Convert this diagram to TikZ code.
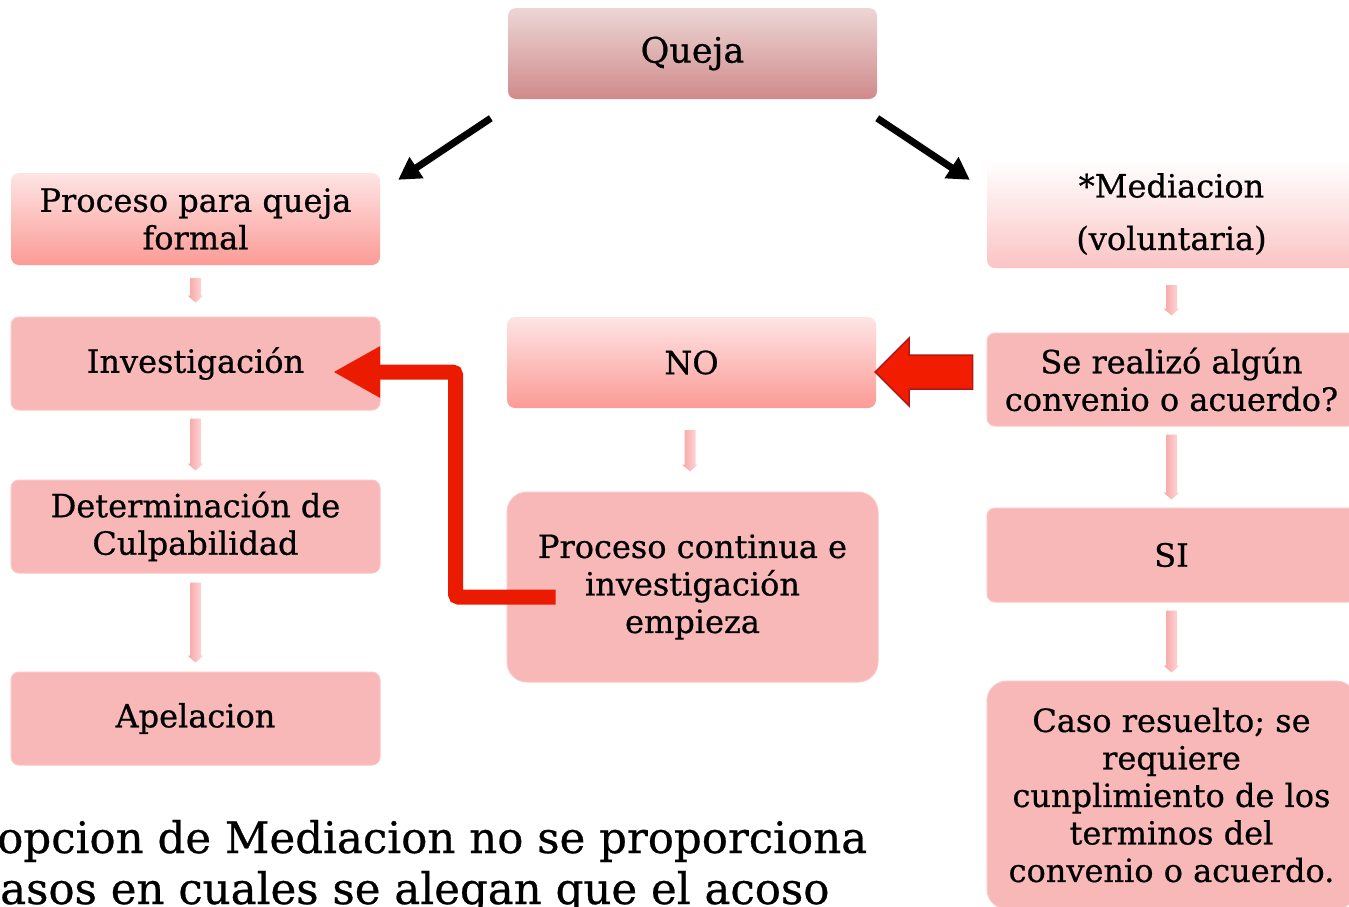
\documentclass[tikz,border=0pt]{standalone}
\usepackage{fontspec}
\setmainfont[FakeBold=0.6]{DejaVu Serif}
\usetikzlibrary{calc,arrows.meta}
\definecolor{boxpink}{HTML}{F8B8B8}
\definecolor{boxedge}{HTML}{FAC6C6}
\definecolor{qtop}{HTML}{EDD6D6}
\definecolor{qbot}{HTML}{D08A8A}
\definecolor{gtop}{HTML}{FDE4E4}
\definecolor{gbot}{HTML}{FC9B96}
\definecolor{mbot}{HTML}{FBC4C4}
\definecolor{linered}{HTML}{EA1B00}
\definecolor{arrred}{HTML}{F21C00}
\definecolor{arrdark}{HTML}{B01818}
\definecolor{parrL}{HTML}{F9A3A3}
\definecolor{parrR}{HTML}{FDDCDC}
\newcommand\pinkarr[2]{\path[left color=parrL, right color=parrR] let \p1=(#1), \p2=(#2) in
  ({\x1-5.5pt},{\y1}) -- ({\x1+5.5pt},{\y1}) -- ({\x1+5.5pt},{\y2+7pt}) -- ({\x1+8pt},{\y2+7pt}) --
  ({\x1},{\y2}) -- ({\x1-8pt},{\y2+7pt}) -- ({\x1-5.5pt},{\y2+7pt}) -- cycle;}
\tikzset{
  box/.style={rounded corners=8pt, minimum width=369pt, minimum height=92pt, inner sep=0pt,
    align=center, font=\fontsize{32}{37.5}\selectfont},
  flat/.style={box, fill=boxpink, draw=boxedge, line width=1pt},
  blk/.style={line width=7pt, -{Triangle[length=22pt,width=24pt]}},
  redline/.style={draw=linered, line width=15pt, rounded corners=3pt, -{Triangle[length=47pt,width=48pt]}},
  bottomtext/.style={anchor=base west, inner sep=0pt, font=\fontsize{43.5}{50}\selectfont},
}
\begin{document}
\begin{tikzpicture}[x=1pt,y=-1pt]
\useasboundingbox (0,0) rectangle (1349,906);
\clip (0,0) rectangle (1349,906);

\node[box, top color=qtop, bottom color=qbot, minimum height=91pt, font=\fontsize{35}{40}\selectfont] (queja) at (692.5,53.5) {Queja};
\node[box, top color=gtop, bottom color=gbot] (formal) at (195.5,219) {Proceso para queja\\formal};
\node[flat, minimum height=93pt] (inv) at (195.5,363.5) {Investigación};
\node[flat, minimum height=93pt] (det) at (195.5,526.5) {Determinación de\\Culpabilidad};
\node[flat, minimum height=93pt] (ape) at (195.5,718.5) {Apelacion};
\node[box, top color=gtop, bottom color=gbot, minimum height=91pt] (no) at (691.5,362.5) {NO};
\node[flat, minimum width=371pt, minimum height=190pt, rounded corners=20pt] (cont) at (692.5,587) {Proceso continua e\\investigación\\empieza};
\node[box, top color=white, bottom color=mbot, minimum height=108pt] (med) at (1171.5,214) {*Mediacion\\[15pt](voluntaria)};
\node[flat, minimum height=93pt] (se) at (1171.5,379.5) {Se realizó algún\\convenio o acuerdo?};
\node[flat, minimum height=94pt] (si) at (1171.5,555) {SI};
\node[flat, minimum height=228pt, rounded corners=20pt] (caso) at (1171.5,795) {Caso resuelto; se\\requiere\\cunplimiento de los\\terminos del\\convenio o acuerdo.};

% black arrows
\draw[blk] ($(queja.south west)+(-17,19)$) -- ($(formal.north east)+(18,7)$);
\draw[blk] ($(queja.south east)+(0,19)$) -- ($(med.north west)+(-17,20)$);

% pink arrows
\pinkarr{$(formal.south)+(0,13)$}{$(inv.north)+(0,-14)$}
\pinkarr{$(inv.south)+(0,8)$}{$(det.north)+(0,-9)$}
\pinkarr{$(det.south)+(0,9)$}{$(ape.north)+(0,-9)$}
\pinkarr{$(no.south)+(-1.5,22)$}{$(cont.north)+(-2.5,-20)$}
\pinkarr{$(med.south)+(0,17)$}{$(se.north)+(0,-17)$}
\pinkarr{$(se.south)+(0,8)$}{$(si.north)+(0,-8)$}
\pinkarr{$(si.south)+(0,8)$}{$(caso.north)+(0,-8)$}

% red elbow connector
\coordinate (rs) at ($(cont.west)+(49,10)$);
\draw[redline] (rs) -| ($(inv.east)+(75,8.5)$) -- ($(inv.east)+(-47.5,8.5)$);

% red block arrow
\coordinate (bt) at ($(se.west)+(-14,-7.5)$);
\coordinate (tp) at ($(no.east |- bt)+(-1,0)$);
\filldraw[fill=arrred, draw=arrdark, line width=1.5pt, line join=miter]
  ($(bt)+(0,-17)$) -- ($(tp)+(34,-17)$) -- ($(tp)+(34,-34)$) -- (tp) -- ($(tp)+(34,34)$) -- ($(tp)+(34,17)$) -- ($(bt)+(0,17)$) -- cycle;

% bottom text
\node[bottomtext] (t1) at (-3,853) {opcion de Mediacion no se proporciona};
\node[bottomtext] (t2) at (0,904) {asos en cuales se alegan que el acoso};
\end{tikzpicture}
\end{document}
